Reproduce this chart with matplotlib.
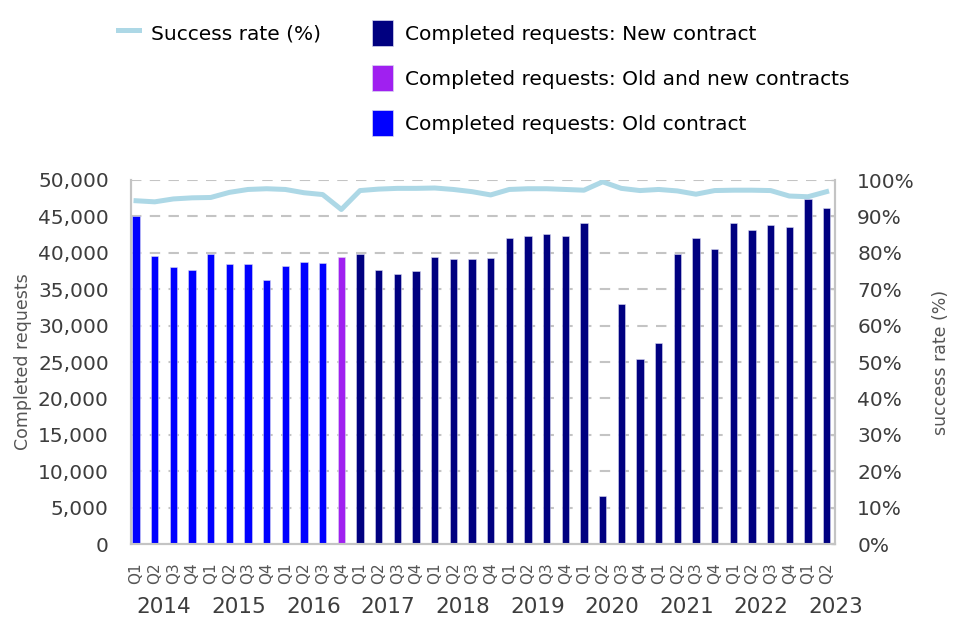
#!/usr/bin/env python3
"""
plot.py - Completed requests per quarter with success rate
"""

import matplotlib
matplotlib.use("Agg")
import matplotlib.pyplot as plt
from matplotlib.lines import Line2D
from matplotlib.patches import Patch
from matplotlib.transforms import blended_transform_factory
import numpy as np

# ---- data ----
years = [2014, 2015, 2016, 2017, 2018, 2019, 2020, 2021, 2022, 2023]
quarters = ["Q1", "Q2", "Q3", "Q4"] * 9 + ["Q1", "Q2"]

completed = [
    45050, 39580, 38030, 37610,   # 2014
    39860, 38480, 38530, 36240,   # 2015
    38210, 38670, 38580, 39450,   # 2016
    39770, 37610, 37110, 37480,   # 2017
    39360, 39080, 39170, 39270,   # 2018
    42060, 42300, 42570, 42340,   # 2019
    44130, 6650, 33030, 25460,    # 2020
    27660, 39860, 41970, 40550,   # 2021
    44040, 43160, 43810, 43490,   # 2022
    47340, 46110,                 # 2023
]

success_rate = [
    94.3, 94.0, 94.8, 95.1,
    95.2, 96.6, 97.4, 97.6,
    97.4, 96.5, 96.0, 91.9,
    97.1, 97.5, 97.7, 97.7,
    97.8, 97.4, 96.8, 95.9,
    97.4, 97.6, 97.6, 97.4,
    97.2, 99.5, 97.7, 97.1,
    97.4, 97.0, 96.1, 97.1,
    97.2, 97.2, 97.1, 95.6,
    95.4, 96.8,
]

# contract type per quarter: 11 old, 1 mixed, rest new
contract = ["old"] * 11 + ["mixed"] + ["new"] * 26

colors = {"new": "#000080", "mixed": "#A020F0", "old": "#0000FF"}
labels = {
    "new": "Completed requests: New contract",
    "mixed": "Completed requests: Old and new contracts",
    "old": "Completed requests: Old contract",
}
line_color = "#ADD8E6"
grid_color = "#C4C4C4"
text_color = "#3D3D3D"


def main():
    fig = plt.figure(figsize=(9.6, 6.4), dpi=100)
    ax = fig.add_axes([131 / 960, 96 / 640, 704 / 960, 364 / 640])
    ax2 = ax.twinx()

    x = np.arange(len(completed))
    bar_colors = [colors[c] for c in contract]
    ax.bar(x, completed, width=0.4, color=bar_colors,
           edgecolor="#D8D8F0", linewidth=0.4, zorder=3)

    ax2.plot(x, success_rate, color=line_color, linewidth=3.6,
             solid_joinstyle="round", zorder=4)

    # axes limits and ticks
    ax.set_xlim(-0.27, 37.45)
    ax.set_ylim(0, 50000)
    ax2.set_ylim(0, 100)
    ax.set_yticks(np.arange(0, 50001, 5000))
    ax2.set_yticks(np.arange(0, 101, 10))
    ax.set_yticklabels([f"{v:,.0f}" for v in np.arange(0, 50001, 5000)])
    ax2.set_yticklabels([f"{v:.0f}%" for v in np.arange(0, 101, 10)])

    ax.set_xticks(x)
    ax.set_xticklabels(quarters, rotation=90, fontsize=11, color="#555555")
    ax.tick_params(axis="x", length=0, pad=13)
    ax.tick_params(axis="y", length=0, pad=16, labelsize=14.5,
                   labelcolor=text_color)
    ax2.tick_params(axis="y", length=3, width=1, color=grid_color,
                    direction="in", pad=16, labelsize=14.5,
                    labelcolor=text_color)

    # grid
    ax.yaxis.grid(True, color=grid_color, linewidth=1.5,
                  linestyle=(0, (5, 4)), zorder=0)
    ax.set_axisbelow(True)

    # spines
    for a in (ax, ax2):
        a.spines["top"].set_visible(False)
        for side in ("left", "right", "bottom"):
            a.spines[side].set_color(grid_color)
            a.spines[side].set_linewidth(1.5)

    # year labels under the quarter labels
    trans = blended_transform_factory(ax.transData, ax.transAxes)
    for i, yr in enumerate(years):
        ax.text(4 * i + 1.5, -0.173, str(yr), transform=trans,
                ha="center", va="center", fontsize=15.5, color=text_color)

    # axis titles
    ax.set_ylabel("Completed requests", fontsize=12.5, color="#555555")
    ax.yaxis.set_label_coords(-0.140, 0.5)
    ax2.set_ylabel("success rate (%)", fontsize=12.5, color="#555555")
    ax2.yaxis.set_label_coords(1.138, 0.5)

    # legend: line on its own in first column, bars stacked in second
    blank = Line2D([], [], alpha=0)
    handles = [
        Line2D([], [], color=line_color, linewidth=3.6),
        blank, blank,
        Patch(facecolor=colors["new"], edgecolor="#D8D8F0", linewidth=0.5),
        Patch(facecolor=colors["mixed"], edgecolor="#D8D8F0", linewidth=0.5),
        Patch(facecolor=colors["old"], edgecolor="#D8D8F0", linewidth=0.5),
    ]
    names = ["Success rate (%)", "", "",
             labels["new"], labels["mixed"], labels["old"]]
    fig.legend(handles, names, ncol=2, loc="upper left",
               bbox_to_anchor=(118 / 960, 1 - 20 / 640),
               frameon=False, fontsize=14.5, borderpad=0, borderaxespad=0,
               handlelength=1.05, handleheight=1.6, handletextpad=0.6,
               labelspacing=0.96, columnspacing=2.5)

    fig.savefig("out.png", dpi=100)
    plt.close(fig)


if __name__ == "__main__":
    main()
